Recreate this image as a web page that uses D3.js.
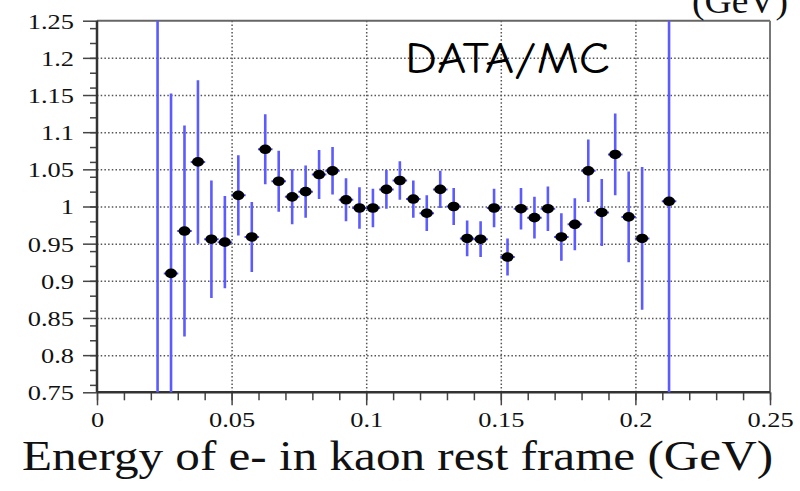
<!DOCTYPE html>
<html>
<head>
<meta charset="utf-8">
<script src="https://cdn.jsdelivr.net/npm/d3@7"></script>
<style>
  body { margin: 0; background: #fff; }
  svg { display: block; }
  .grid line { stroke: #555; stroke-width: 1.5; stroke-dasharray: 1.5,2.2; }
  .grid path { display: none; }
  .ax path { display: none; }
  .ax line { stroke: #444; stroke-width: 1.5; }
</style>
</head>
<body>
<div id="chart"></div>
<script>
// bin centres (GeV), DATA/MC ratio and its error
const energy = [0.0225, 0.0275, 0.0325, 0.0375, 0.0425, 0.0475, 0.0525, 0.0575, 0.0625, 0.0675,
                0.0725, 0.0775, 0.0825, 0.0875, 0.0925, 0.0975, 0.1025, 0.1075, 0.1125, 0.1175,
                0.1225, 0.1275, 0.1325, 0.1375, 0.1425, 0.1475, 0.1525, 0.1575, 0.1625, 0.1675,
                0.1725, 0.1775, 0.1825, 0.1875, 0.1925, 0.1975, 0.2025, 0.2125];
const ratio = [0.70, 0.910, 0.967, 1.060, 0.956, 0.952, 1.015, 0.959, 1.077, 1.034,
               1.013, 1.020, 1.043, 1.048, 1.009, 0.998, 0.998, 1.023, 1.035, 1.010,
               0.991, 1.023, 1.000, 0.957, 0.956, 0.998, 0.932, 0.997, 0.985, 0.997,
               0.959, 0.976, 1.048, 0.992, 1.070, 0.986, 0.957, 1.007];
const ratioErr = [0.60, 0.242, 0.142, 0.110, 0.079, 0.062, 0.054, 0.047, 0.047, 0.041,
                  0.037, 0.035, 0.033, 0.032, 0.029, 0.028, 0.026, 0.026, 0.026, 0.025,
                  0.024, 0.025, 0.025, 0.024, 0.024, 0.026, 0.025, 0.028, 0.028, 0.030,
                  0.032, 0.035, 0.042, 0.045, 0.055, 0.061, 0.096, 0.60];
const xTicks = [0, 0.05, 0.1, 0.15, 0.2, 0.25];
const yTicks = [0.75, 0.8, 0.85, 0.9, 0.95, 1, 1.05, 1.1, 1.15, 1.2, 1.25];
const xLabel = "Energy of e- in kaon rest frame (GeV)";
const plotLabel = "DATA/MC";

const W = 800, H = 491,
      pLeft = 97, pRight = 770, pTop = 20.7, pBottom = 392.3;
const serif = "'Liberation Serif', 'Times New Roman', serif";

const x = d3.scaleLinear().domain([0, 0.25]).range([pLeft, pRight]);
const y = d3.scaleLinear().domain([0.75, 1.25]).range([pBottom, pTop]);

const svg = d3.select('#chart').append('svg')
    .attr("width", W).attr("height", H);

svg.append("defs").append("clipPath").attr("id", "plotclip")
    .append("rect").attr("x", pLeft).attr("y", pTop)
    .attr("width", pRight - pLeft).attr("height", pBottom - pTop);

// grid
svg.append("g").attr("class", "grid")
    .attr("transform", "translate(0," + pBottom + ")")
    .call(d3.axisBottom(x).tickValues(xTicks.slice(1, -1)).tickSize(-(pBottom - pTop)).tickFormat(""));
svg.append("g").attr("class", "grid")
    .attr("transform", "translate(" + pLeft + ",0)")
    .call(d3.axisLeft(y).tickValues(yTicks.slice(1, -1)).tickSize(-(pRight - pLeft)).tickFormat(""));

// minor ticks
svg.append("g").attr("class", "ax")
    .attr("transform", "translate(0," + pBottom + ")")
    .call(d3.axisBottom(x).ticks(25).tickSize(8).tickFormat(""));
svg.append("g").attr("class", "ax")
    .attr("transform", "translate(" + pLeft + ",0)")
    .call(d3.axisLeft(y).ticks(20).tickSize(7).tickFormat(""));

// major ticks + labels
const xAx = svg.append("g").attr("class", "ax")
    .attr("transform", "translate(0," + pBottom + ")")
    .call(d3.axisBottom(x).tickValues(xTicks).tickSize(13).tickPadding(6)
        .tickFormat(d => d3.format("")(+d.toFixed(2))));
xAx.selectAll("text").attr("dy", "0.72em");

const yAx = svg.append("g").attr("class", "ax")
    .attr("transform", "translate(" + pLeft + ",0)")
    .call(d3.axisLeft(y).tickValues(yTicks).tickSize(14).tickPadding(9)
        .tickFormat(d => d3.format("")(+d.toFixed(2))));
yAx.selectAll("text").attr("dy", "0.34em");

[xAx, yAx].forEach(g => {
    g.attr("font-family", null).attr("font-size", null);
    g.selectAll("text")
        .style("font-family", serif).style("font-size", "22px").attr("fill", "#111")
        .each(function () {
            const len = this.getComputedTextLength();
            d3.select(this).attr("textLength", len * 1.2).attr("lengthAdjust", "spacingAndGlyphs");
        });
});

// frame
svg.append("line").attr("x1", pLeft).attr("x2", pRight).attr("y1", pTop).attr("y2", pTop)
    .attr("stroke", "#666").attr("stroke-width", 2);
svg.append("line").attr("x1", pRight).attr("x2", pRight).attr("y1", pTop).attr("y2", pBottom)
    .attr("stroke", "#777").attr("stroke-width", 2);
svg.append("line").attr("x1", pLeft).attr("x2", pRight).attr("y1", pBottom).attr("y2", pBottom)
    .attr("stroke", "#333").attr("stroke-width", 2.5);
svg.append("line").attr("x1", pLeft).attr("x2", pLeft).attr("y1", pTop).attr("y2", pBottom)
    .attr("stroke", "#333").attr("stroke-width", 2.5);

// data
const pts = energy.map((e, i) => ({x: e, v: ratio[i], err: ratioErr[i]}));
const plot = svg.append("g").attr("clip-path", "url(#plotclip)");

plot.selectAll(".ebar").data(pts).enter().append("line")
    .attr("class", "ebar")
    .attr("x1", d => x(d.x)).attr("x2", d => x(d.x))
    .attr("y1", d => y(d.v + d.err)).attr("y2", d => y(d.v - d.err))
    .attr("stroke", "#5b5bff").attr("stroke-width", 2.6);

plot.selectAll(".xbar").data(pts).enter().append("line")
    .attr("class", "xbar")
    .attr("x1", d => x(d.x - 0.0027)).attr("x2", d => x(d.x + 0.0027))
    .attr("y1", d => y(d.v)).attr("y2", d => y(d.v))
    .attr("stroke", "#4a4aff").attr("stroke-width", 2);

plot.selectAll(".pt").data(pts).enter().append("ellipse")
    .attr("class", "pt")
    .attr("cx", d => x(d.x)).attr("cy", d => y(d.v))
    .attr("rx", 6).attr("ry", 4.8)
    .attr("fill", "#000");

// labels
svg.append("text")
    .attr("x", 22).attr("y", 470)
    .style("font-family", serif).style("font-size", "43px").attr("fill", "#111")
    .attr("textLength", 751).attr("lengthAdjust", "spacingAndGlyphs")
    .text(xLabel);

svg.append("text")
    .attr("x", 692).attr("y", 13)
    .style("font-family", serif).style("font-size", "36px").attr("fill", "#111")
    .attr("textLength", 96).attr("lengthAdjust", "spacingAndGlyphs")
    .text("(GeV)");

svg.append("text")
    .attr("x", 405).attr("y", 73)
    .style("font-family", "'Comic Sans MS', 'Comic Neue', 'DejaVu Sans', sans-serif")
    .style("font-size", "44px")
    .attr("fill", "#000")
    .attr("textLength", 205).attr("lengthAdjust", "spacingAndGlyphs")
    .text(plotLabel);
</script>
</body>
</html>
